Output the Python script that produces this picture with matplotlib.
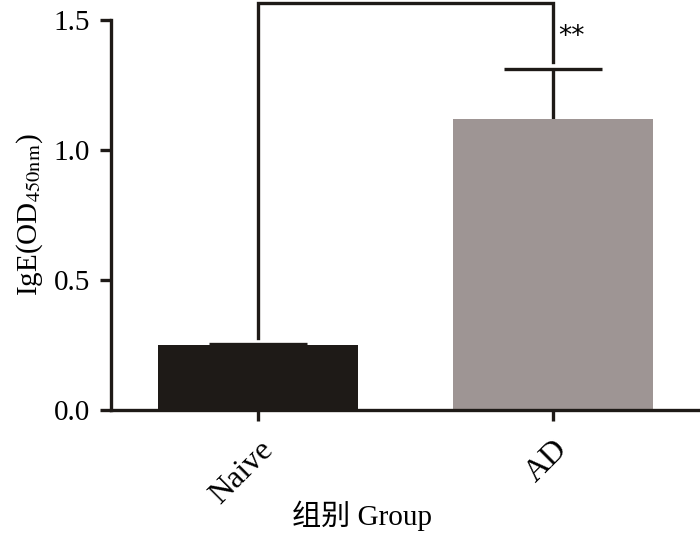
import numpy as np
import matplotlib
matplotlib.use("Agg")
import matplotlib.pyplot as plt

plt.rcParams['font.family'] = ['Liberation Serif', 'Noto Sans CJK SC']
plt.rcParams['mathtext.fontset'] = 'stix'

groups = ["Naive", "AD"]
means = [0.25, 1.12]
sems = [0.005, 0.19]
colors = ["#1e1a17", "#9e9594"]
sig_label = "**"

fig = plt.figure(figsize=(7.0, 5.34), dpi=100)
ax = fig.add_axes([111 / 700, 1 - 410 / 534, 1 - 111 / 700, 390 / 534])

x = np.arange(len(groups))
ax.bar(x, means, width=0.68, color=colors, zorder=2)
eb = ax.errorbar(x, means, yerr=[np.zeros(len(sems)), sems], fmt='none',
                 ecolor='#1e1a17', elinewidth=2.4, capsize=35, capthick=2.4, zorder=1)
# only the upper caps, like Prism
eb[1][0].set_visible(False)

# significance bracket
y_top = 1.565
ax.plot([x[0], x[0], x[1], x[1]], [0.277, y_top, y_top, 1.34],
        color='#1e1a17', lw=2.4, clip_on=False, solid_joinstyle='miter', zorder=3)
ax.text(x[1] + 0.065, 1.435, sig_label, fontsize=19, ha='center', va='center',
        family='DejaVu Sans')

ax.set_xlim(-0.5, 1.5)
ax.set_ylim(0, 1.5)
ax.set_yticks([0.0, 0.5, 1.0, 1.5])
ax.set_yticklabels(["0.0", "0.5", "1.0", "1.5"])
ax.set_xticks(x)
ax.set_xticklabels(groups, rotation=45, ha='right', rotation_mode='anchor')

for side in ['top', 'right']:
    ax.spines[side].set_visible(False)
for side in ['left', 'bottom']:
    ax.spines[side].set_linewidth(2.4)
    ax.spines[side].set_color('#1e1a17')
ax.tick_params(axis='both', width=2.4, length=8, color='#1e1a17', labelsize=21)
ax.tick_params(axis='y', pad=7)
ax.tick_params(axis='x', pad=10, labelsize=23)

ax.set_ylabel(r'IgE(OD$_{\mathrm{450nm}}$)', fontsize=21, labelpad=6)
fig.text(362 / 700, 1 - 516 / 534, "组别 Group", fontsize=21, ha='center', va='center')

fig.savefig("out.png", dpi=100)
